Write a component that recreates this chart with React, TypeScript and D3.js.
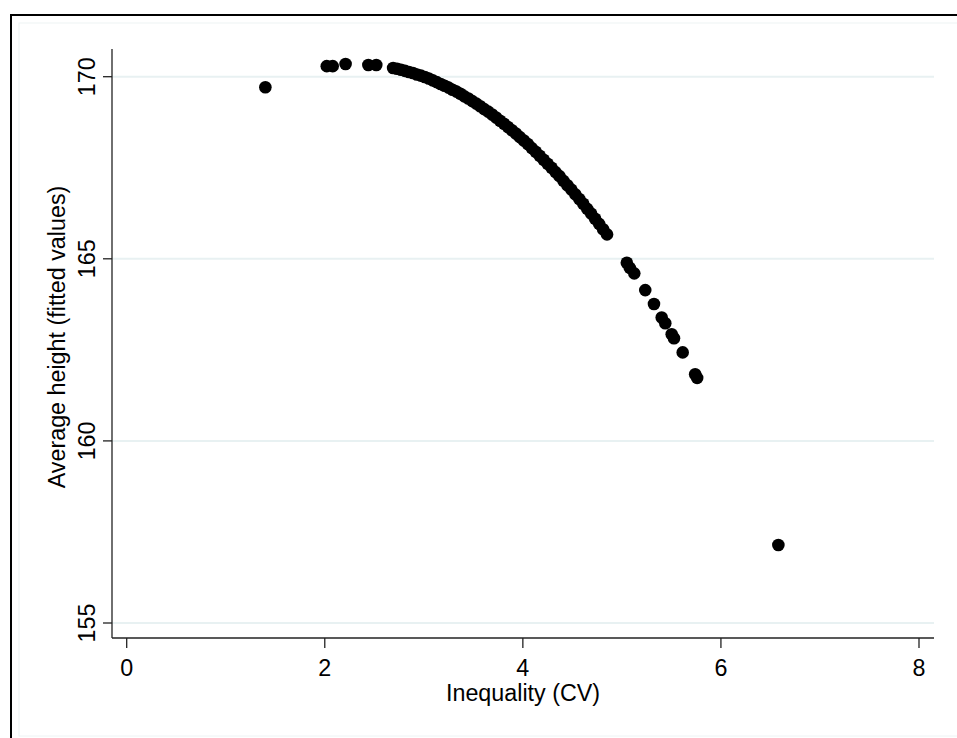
import React from "react";
import * as d3 from "d3";

// Inequality (CV) values of each observation
const cvValues: number[] = [
  1.4, 2.02, 2.08, 2.21, 2.44, 2.52,
  2.69, 2.73, 2.77, 2.81, 2.85, 2.89, 2.93, 2.97, 3.01, 3.05,
  3.09, 3.13, 3.17, 3.21, 3.25, 3.29, 3.33, 3.37, 3.41, 3.45,
  3.49, 3.53, 3.57, 3.61, 3.65, 3.69, 3.73, 3.77, 3.81, 3.85,
  3.89, 3.93, 3.97, 4.01, 4.05, 4.09, 4.13, 4.17, 4.21, 4.25,
  4.29, 4.33, 4.37, 4.41, 4.45, 4.49, 4.53, 4.57, 4.61, 4.65,
  4.69, 4.73, 4.77, 4.81, 4.85,
  5.05, 5.08, 5.125, 5.236, 5.324, 5.402, 5.438, 5.503, 5.526, 5.614,
  5.74, 5.76, 6.58,
];

// Average height (fitted values) of each observation
const heightValues: number[] = [
  169.71, 170.29, 170.29, 170.35, 170.32, 170.32,
  170.24, 170.22, 170.19, 170.16, 170.13, 170.1, 170.06, 170.03, 169.99, 169.95,
  169.9, 169.85, 169.8, 169.75, 169.7, 169.64, 169.59, 169.53, 169.46, 169.4,
  169.33, 169.26, 169.19, 169.11, 169.04, 168.96, 168.88, 168.79, 168.71, 168.62,
  168.53, 168.44, 168.34, 168.25, 168.15, 168.04, 167.94, 167.83, 167.72, 167.61,
  167.5, 167.38, 167.27, 167.14, 167.02, 166.9, 166.77, 166.64, 166.51, 166.37,
  166.24, 166.1, 165.96, 165.81, 165.67,
  164.89, 164.75, 164.6, 164.14, 163.76, 163.39, 163.23, 162.93, 162.82, 162.43,
  161.83, 161.73, 157.14,
];

const xTicks: number[] = [0, 2, 4, 6, 8];
const yTicks: number[] = [155, 160, 165, 170];
const xTitle = "Inequality (CV)";
const yTitle = "Average height (fitted values)";

const W = 957;
const H = 738;
const FONT = "'Liberation Sans', Arial, Helvetica, sans-serif";

export default function App() {
  const x = d3.scaleLinear().domain([0, 8]).range([126.7, 919]);
  const y = d3.scaleLinear().domain([155, 170]).range([623, 76.7]);
  const plotLeft = 112;
  const plotRight = 934;
  const plotBottom = 638;
  const plotTop = 49;
  const points = cvValues.map((cv, i) => ({ cv, h: heightValues[i] }));

  return (
    <svg
      width={W}
      height={H}
      style={{ position: "absolute", left: 0, top: 0, background: "#fff" }}
      fontFamily={FONT}
    >
      {/* outer graph border */}
      <rect x={11} y={15} width={W + 20} height={H + 20} fill="none" stroke="#000" strokeWidth={2} />
      {/* faint inner region border */}
      <rect x={19} y={23} width={W} height={713} fill="none" stroke="#eef3f4" strokeWidth={1} />

      {/* gridlines */}
      {yTicks.map((t) => (
        <line key={"g" + t} x1={plotLeft} x2={plotRight} y1={y(t)} y2={y(t)} stroke="#e8f1f2" strokeWidth={2} />
      ))}

      {/* axes */}
      <line x1={plotLeft} x2={plotLeft} y1={plotTop} y2={plotBottom} stroke="#222" strokeWidth={1.3} />
      <line x1={plotLeft} x2={plotRight} y1={plotBottom} y2={plotBottom} stroke="#222" strokeWidth={1.3} />

      {/* y ticks */}
      {yTicks.map((t) => (
        <g key={"y" + t}>
          <line x1={plotLeft - 9} x2={plotLeft} y1={y(t)} y2={y(t)} stroke="#222" strokeWidth={1.3} />
          <text
            transform={`translate(94.5,${y(t)}) rotate(-90)`}
            textAnchor="middle"
            fontSize={23.3}
            fill="#000"
          >
            {t}
          </text>
        </g>
      ))}

      {/* x ticks */}
      {xTicks.map((t) => (
        <g key={"x" + t}>
          <line x1={x(t)} x2={x(t)} y1={plotBottom} y2={plotBottom + 10} stroke="#222" strokeWidth={1.3} />
          <text x={x(t)} y={675.5} textAnchor="middle" fontSize={23.3} fill="#000">
            {t}
          </text>
        </g>
      ))}

      {/* titles */}
      <text x={(plotLeft + plotRight) / 2} y={700.5} textAnchor="middle" fontSize={23.3} fill="#000">
        {xTitle}
      </text>
      <text
        transform={`translate(65,337) rotate(-90)`}
        textAnchor="middle"
        fontSize={23.3}
        fill="#000"
      >
        {yTitle}
      </text>

      {/* points */}
      {points.map((p, i) => (
        <circle key={i} cx={x(p.cv)} cy={y(p.h)} r={6.3} fill="#000" />
      ))}
    </svg>
  );
}
